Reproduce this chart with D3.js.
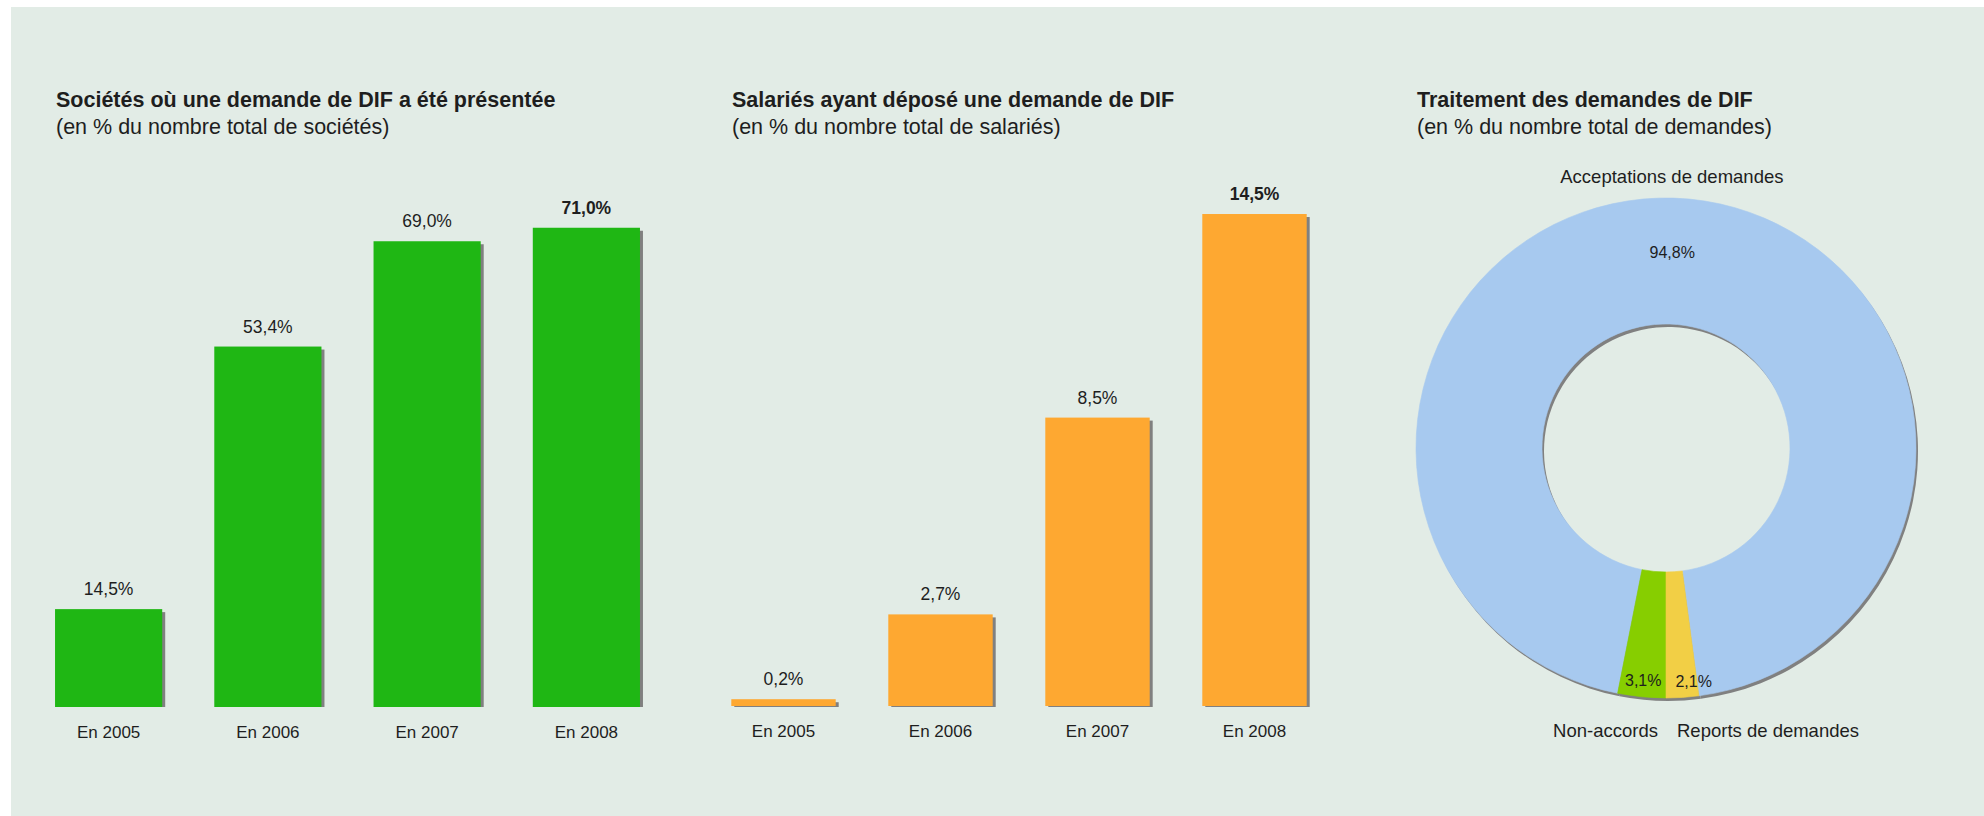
<!DOCTYPE html>
<html>
<head>
<meta charset="utf-8">
<script src="https://cdn.jsdelivr.net/npm/d3@7"></script>
<style>
  html, body { margin: 0; padding: 0; background: #ffffff; }
  svg { display: block; font-family: "Liberation Sans", Arial, Helvetica, sans-serif; }
</style>
</head>
<body>
<svg id="chart" width="1984" height="816"></svg>
<script>
// ---- data ----
const years = ["En 2005", "En 2006", "En 2007", "En 2008"];
const companyShare = [14.5, 53.4, 69.0, 71.0];      // % of companies with a DIF request
const employeeShare = [0.2, 2.7, 8.5, 14.5];        // % of employees who filed a DIF request
const outcomeNames = ["Acceptations de demandes", "Non-accords", "Reports de demandes"];
const outcomeShares = [94.8, 3.1, 2.1];             // % of all requests

const panelTitles = [
  "Sociétés où une demande de DIF a été présentée",
  "Salariés ayant déposé une demande de DIF",
  "Traitement des demandes de DIF"
];
const panelSubtitles = [
  "(en % du nombre total de sociétés)",
  "(en % du nombre total de salariés)",
  "(en % du nombre total de demandes)"
];

// ---- styling ----
const TEXT = "#1e1e1e";
const SHADOW = "#808080";
const fr = d3.formatLocale({ decimal: ",", thousands: " ", grouping: [3], currency: ["", " €"] });
const pct = v => fr.format(".1f")(v) + "%";

const svg = d3.select("#chart");

// background panel
svg.append("rect")
  .attr("x", 11).attr("y", 7)
  .attr("width", 1984 - 11).attr("height", 816 - 7)
  .attr("fill", "#e2ece6");

// headings
function heading(x, i) {
  svg.append("text")
    .attr("x", x).attr("y", 107)
    .attr("fill", TEXT)
    .attr("font-size", 21.5).attr("font-weight", "bold")
    .text(panelTitles[i]);
  svg.append("text")
    .attr("x", x).attr("y", 134)
    .attr("fill", TEXT)
    .attr("font-size", 21.5)
    .text(panelSubtitles[i]);
}
heading(56, 0);
heading(732, 1);
heading(1417, 2);

// ---- bar panels ----
function barPanel(opts) {
  const g = svg.append("g");
  const x = d3.scaleBand()
    .domain(years)
    .range(opts.xRange)
    .paddingInner(opts.padInner)
    .paddingOuter(opts.padInner / 2);
  const y = d3.scaleLinear()
    .domain([0, opts.yMax])
    .range([opts.base, opts.base - opts.yMax * opts.pxPerUnit]);

  const rows = years.map((k, i) => ({ k, v: opts.values[i], last: i === years.length - 1 }));

  // drop shadows
  g.selectAll("rect.shadow").data(rows).join("rect")
    .attr("class", "shadow")
    .attr("x", d => x(d.k) + 3)
    .attr("y", d => y(d.v) + 3)
    .attr("width", x.bandwidth())
    .attr("height", d => Math.max(0, y(0) + opts.shadowBelow - y(d.v) - 3))
    .attr("fill", SHADOW);

  // bars
  g.selectAll("rect.bar").data(rows).join("rect")
    .attr("class", "bar")
    .attr("x", d => x(d.k))
    .attr("y", d => y(d.v))
    .attr("width", x.bandwidth())
    .attr("height", d => y(0) - y(d.v))
    .attr("fill", opts.color);

  // value labels
  g.selectAll("text.val").data(rows).join("text")
    .attr("class", "val")
    .attr("x", d => x(d.k) + x.bandwidth() / 2)
    .attr("y", d => y(d.v) - 14)
    .attr("text-anchor", "middle")
    .attr("fill", TEXT)
    .attr("font-size", 17.5)
    .attr("font-weight", d => d.last ? "bold" : "normal")
    .text(d => pct(d.v));

  // category axis
  const ax = g.append("g")
    .attr("transform", `translate(0,${opts.base})`)
    .call(d3.axisBottom(x).tickSize(0).tickPadding(19));
  ax.select(".domain").remove();
  ax.selectAll("text")
    .attr("fill", TEXT)
    .attr("font-size", 17)
    .attr("font-family", null);
}

barPanel({
  values: companyShare, color: "#1fb714",
  xRange: [29, 666], padInner: 0.327,
  base: 707, yMax: 80, pxPerUnit: 6.75, shadowBelow: 0
});
barPanel({
  values: employeeShare, color: "#fea831",
  xRange: [705, 1333], padInner: 0.335,
  base: 706, yMax: 16, pxPerUnit: 33.93, shadowBelow: 1
});

// ---- donut panel ----
const cx = 1666, cy = 448, rOuter = 250, rInner = 124;
const donutColors = ["#a7c9ef", "#87ce00", "#f2cf45"];
const slices = outcomeNames.map((name, i) => ({ name, value: outcomeShares[i], color: donutColors[i] }));

// run counter-clockwise so the two small slices straddle the bottom of the ring
const a0 = Math.PI - 2 * Math.PI * outcomeShares[2] / d3.sum(outcomeShares);
const pie = d3.pie().sort(null).value(d => d.value)
  .startAngle(a0).endAngle(a0 - 2 * Math.PI);
const arcs = pie(slices);
const arc = d3.arc().innerRadius(rInner).outerRadius(rOuter);

const dg = svg.append("g").attr("transform", `translate(${cx},${cy})`);

// shadow ring
dg.append("g").attr("transform", "translate(2,3)")
  .selectAll("path").data(arcs).join("path")
  .attr("d", arc).attr("fill", SHADOW);

dg.selectAll("path.slice").data(arcs).join("path")
  .attr("class", "slice")
  .attr("d", arc)
  .attr("fill", d => d.data.color)
  .attr("stroke", d => d.data.color).attr("stroke-width", 0.6);

// value labels inside the ring
const midAngle = d => (d.startAngle + d.endAngle) / 2;
const labelPos = d => {
  const r = d.data.value > 10 ? 196 : 234;
  const a = midAngle(d);
  return [Math.sin(a) * r, -Math.cos(a) * r];
};
const vals = dg.selectAll("text.val").data(arcs).join("text")
  .attr("class", "val")
  .attr("text-anchor", "middle")
  .attr("dy", "0.35em")
  .attr("fill", TEXT)
  .attr("font-size", 16)
  .text(d => pct(d.data.value))
  .each(function (d) { d.lp = labelPos(d); d.w = this.getComputedTextLength(); });

// keep the small labels from running into each other
const small = arcs.filter(d => d.data.value <= 10).sort((a, b) => a.lp[0] - b.lp[0]);
for (let i = 1; i < small.length; i++) {
  const prev = small[i - 1], cur = small[i];
  const minX = prev.lp[0] + prev.w / 2 + 14 + cur.w / 2;
  if (cur.lp[0] < minX) cur.lp[0] = minX;
}
vals.attr("x", d => d.lp[0]).attr("y", d => d.lp[1]);

// category names outside the ring
dg.selectAll("text.name").data(arcs).join("text")
  .attr("class", "name")
  .attr("fill", TEXT)
  .attr("font-size", 18.5)
  .each(function (d) {
    const a = midAngle(d);
    const sel = d3.select(this);
    if (Math.cos(a) > 0) {
      // upper half: centred above the ring
      sel.attr("text-anchor", "middle")
        .attr("x", arc.centroid(d)[0])
        .attr("y", -rOuter - 15);
    } else {
      // lower half: placed either side of the bottom
      const left = Math.sin(a) < 0;
      sel.attr("text-anchor", left ? "end" : "start")
        .attr("x", left ? -8 : 11)
        .attr("y", rOuter + 39);
    }
  })
  .text(d => d.data.name);
</script>
</body>
</html>
